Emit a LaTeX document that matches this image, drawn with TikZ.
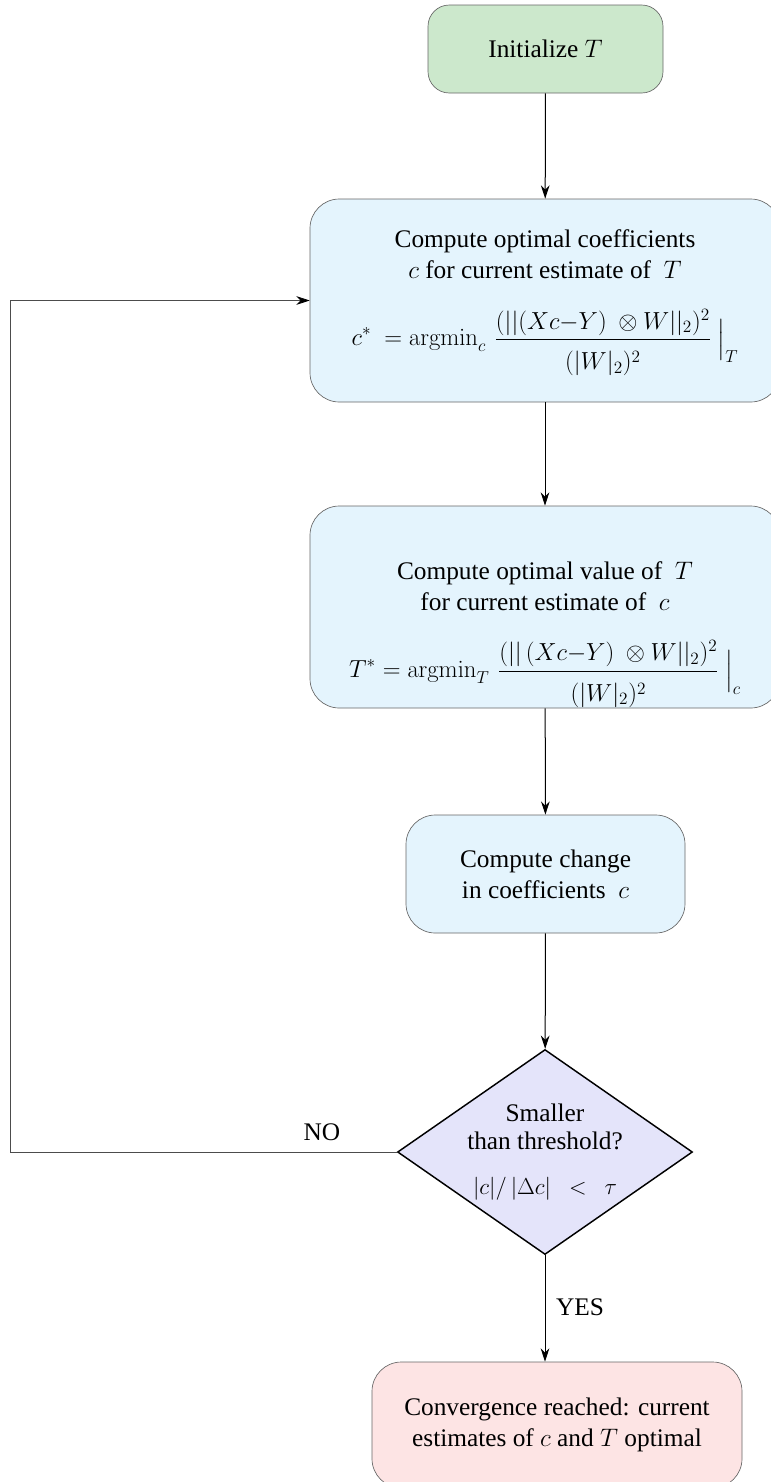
\documentclass[tikz,border=0pt]{standalone}
\usepackage{fix-cm}
\usepackage{amsmath}
\usepackage[no-math]{fontspec}
\setmainfont{Liberation Serif}
\usetikzlibrary{shapes.geometric,arrows.meta}

\definecolor{initgreen}{RGB}{204,232,204}
\definecolor{stepblue}{RGB}{228,244,253}
\definecolor{testlilac}{RGB}{228,228,250}
\definecolor{donepink}{RGB}{253,228,228}

\newcommand{\bigmath}[1]{{\fontsize{18.5}{22}\selectfont$\displaystyle #1$}}
\newcommand{\denstrut}{\rule{0pt}{20pt}}

\tikzset{every picture/.style={line width=0.75pt}}
\tikzset{
  stepbox/.style={draw=black!60, line width=0.5pt, fill=stepblue, rounded corners=22pt, align=center, inner sep=0pt},
  testbox/.style={draw=black, line width=1.1pt, fill=testlilac, shape=diamond, aspect=1.44, inner sep=0pt},
  flow/.style={-{Stealth[length=10pt,width=6.5pt,black]}, black, line width=0.75pt}
}

\begin{document}
\begin{tikzpicture}[x=0.75pt,y=0.75pt,yscale=-1]
\rmfamily\fontsize{19}{23.5}\selectfont
\useasboundingbox (0,0) rectangle (771,1482);

% Rounded Rect
\node [stepbox, fill=initgreen, rounded corners=16pt, minimum width=176.25pt, minimum height=66pt] (init) at (545.5,49) {Initialize $T$};
% Rounded Rect
\node [stepbox, minimum width=352.5pt, minimum height=152.25pt] (coef) at (545,300.5) {\begin{tabular}{@{}c@{}}Compute optimal coefficients\\ $c$ for current estimate of ~$T$\\[16pt]
  \bigmath{c^{*}\ = \operatorname{argmin}_{c}\,\frac{(||(Xc{-}Y)\ \otimes W||_{2})^{2}}{\denstrut(|W|_{2})^{2}}\ \Big|_{T}}\end{tabular}};
% Rounded Rect
\node [stepbox, minimum width=352.5pt, minimum height=151.5pt] (temp) at (545,607) {\begin{tabular}{@{}c@{}}\rule{0pt}{54.5pt}Compute optimal value of ~$T$\\ for current estimate of ~$c$\\[15.5pt]
  \bigmath{T^{*} = \operatorname{argmin}_{T}\,\frac{(||\,(Xc{-}Y)\ \otimes W||_{2})^{2}}{\denstrut(|W|_{2})^{2}}\ \Big|_{c}}\end{tabular}};
% Rounded Rect
\node [stepbox, minimum width=209.25pt, minimum height=88.5pt] (chg) at (545.5,874) {Compute change\\ in coefficients ~$c$};
% Diamond
\node [testbox, minimum width=221.25pt, minimum height=153.75pt] (thr) at (545,1152) {};
% Text Node
\node [align=center, font=\fontsize{19}{21.5}\selectfont] (thrtext) at (thr) {Smaller\\ than threshold?\\[12pt] {\fontsize{17.3}{20}\selectfont$|c|/\,|\Delta c|\ \ <\ \ \tau$}};
% Rounded Rect
\node [stepbox, fill=donepink, minimum width=277.5pt, minimum height=94.5pt] (done) at (557,1425) {Convergence reached: current\\ estimates of $c$ and $T$ optimal};

\coordinate (back) at (10,1152);

%Straight Lines
\draw [flow] (init) -- (coef);
\draw [flow] (coef) -- (temp);
\draw [flow] (temp) -- (chg);
\draw [flow] (chg) -- (thr);
\draw [flow] (thr.south) -- (thr.south |- done.north);
\draw [flow, draw=black!70, line width=0.5pt] (thr.west) -- (back) |- (coef.west);

% Text Node
\node (no) at (322,1132) {NO};
% Text Node
\node (yes) at (580,1307) {YES};

\end{tikzpicture}
\end{document}
